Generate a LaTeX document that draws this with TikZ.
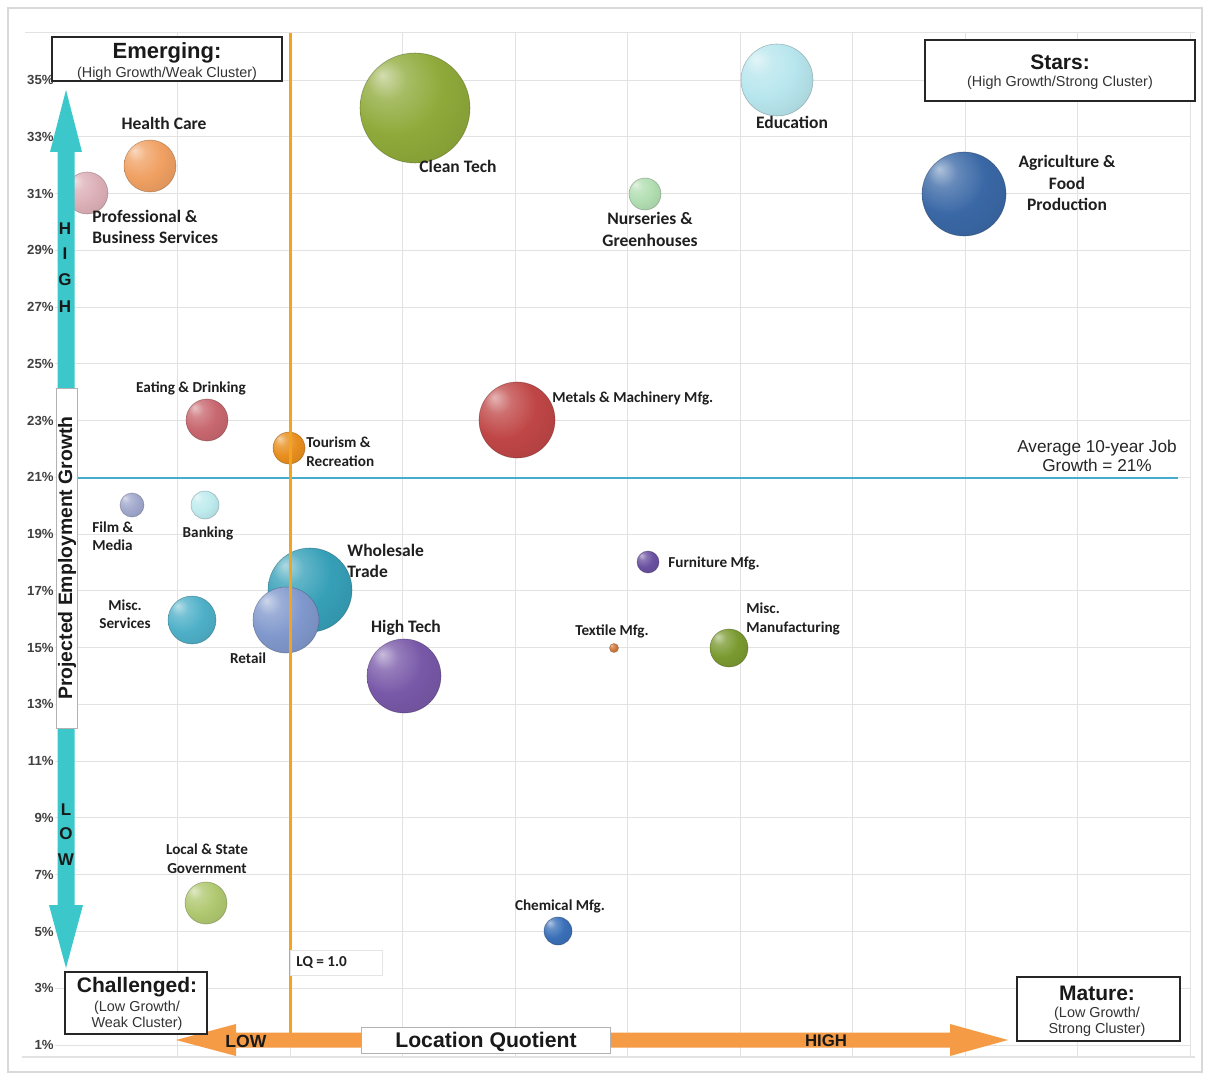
\documentclass[tikz,border=0pt]{standalone}
\usepackage{fontspec}
\setmainfont{Liberation Sans}
\newfontfamily\calfont{Carlito}
\colorlet{bcol}{blue}
\pgfdeclareradialshading[bcol]{sphere}{\pgfqpoint{-15bp}{15bp}}{color(0bp)=(bcol!40!white); color(9bp)=(bcol!78!white); color(22bp)=(bcol); color(48bp)=(bcol!85!black); color(64bp)=(bcol!68!black)}
\definecolor{cyanarrow}{HTML}{3CC8CB}
\definecolor{orarrow}{HTML}{F59B45}
\definecolor{lqline}{HTML}{F2A41E}
\definecolor{avgline}{HTML}{45ABCF}
\definecolor{gridc}{HTML}{E2E2E2}
\definecolor{cClean}{HTML}{8FAA3A}
\definecolor{cEdu}{HTML}{B8E6EE}
\definecolor{cHealth}{HTML}{F0A062}
\definecolor{cProf}{HTML}{DDB0B8}
\definecolor{cNurs}{HTML}{B2DEB2}
\definecolor{cAgri}{HTML}{3A68A6}
\definecolor{cEat}{HTML}{C8676F}
\definecolor{cTour}{HTML}{E88E1E}
\definecolor{cMetal}{HTML}{C04646}
\definecolor{cFilm}{HTML}{A0A8CC}
\definecolor{cBank}{HTML}{BEEBEE}
\definecolor{cWhole}{HTML}{36A0B8}
\definecolor{cMiscS}{HTML}{4EB0C8}
\definecolor{cRetail}{HTML}{8098CC}
\definecolor{cHigh}{HTML}{7858A8}
\definecolor{cFurn}{HTML}{6A50A0}
\definecolor{cText}{HTML}{D07838}
\definecolor{cMiscM}{HTML}{7A9A30}
\definecolor{cLocal}{HTML}{B0C870}
\definecolor{cChem}{HTML}{3A70B8}
\tikzset{
  bc/.code={\colorlet{bcol}{#1}},
  bubble/.style={circle, inner sep=0pt, outer sep=0pt, minimum size=#1, shading=sphere, draw=bcol!50!black, draw opacity=0.45, line width=0.3pt},
  lbig/.style={font=\calfont\bfseries\fontsize{8.75}{10.75}\selectfont, inner sep=0pt, text=black!88},
  lsmall/.style={font=\calfont\bfseries\fontsize{7.6}{9.25}\selectfont, inner sep=0pt, text=black!88},
  ylab/.style={font=\bfseries\fontsize{6.6}{7}\selectfont, inner sep=0pt, text=black!75, anchor=east},
  quad/.style={draw=black!85, line width=0.9pt, fill=white},
  qtitle/.style={font=\bfseries\fontsize{10.5}{12}\selectfont, inner sep=0pt, text=black!90},
  qsub/.style={font=\fontsize{7.2}{8.2}\selectfont, inner sep=0pt, text=black!80, align=center},
  vlet/.style={font=\bfseries\fontsize{8.5}{9}\selectfont, inner sep=0pt, text=black!90},
}
\begin{document}
\begin{tikzpicture}[x=0.5pt, y=-0.5pt]
\useasboundingbox (0,0) rectangle (1215,1075);
\fill[white] (0,0) rectangle (1215,1075);
% frame
\draw[black!15, line width=0.8pt] (8,8) rectangle (1202,1072);
% grid
\foreach \v in {1,3,...,35} {
  \pgfmathsetmacro\yy{1045-(\v-1)*28.382}
  \draw[gridc, line width=0.5pt] (55,\yy) -- (1190,\yy);
  \node[ylab] (y\v) at (54,\yy) {\v\%};
}
\foreach \k in {1,...,10} {
  \pgfmathsetmacro\xx{65+112.5*\k}
  \draw[gridc, line width=0.5pt] (\xx,33) -- (\xx,1057);
}
\draw[gridc, line width=0.5pt] (25,33) -- (1195,33);
\draw[gridc, line width=0.8pt] (22,1057) -- (1195,1057);
% bubbles (diameter in pt = radius in px)
\node[bc=cClean, bubble=55pt] (cleantech) at (415,108) {};
\node[bc=cEdu, bubble=36pt] (education) at (777,80) {};
\node[bc=cHealth, bubble=26pt] (health) at (150,166) {};
\node[bc=cProf, bubble=21pt] (prof) at (87,193) {};
\node[bc=cNurs, bubble=16pt] (nurs) at (645,194) {};
\node[bc=cAgri, bubble=42pt] (agri) at (964,194) {};
\node[bc=cEat, bubble=21pt] (eat) at (207,420) {};
\node[bc=cTour, bubble=16pt] (tour) at (289,448) {};
\node[bc=cMetal, bubble=38pt] (metal) at (517,420) {};
\node[bc=cFilm, bubble=12pt] (film) at (132,505) {};
\node[bc=cBank, bubble=14pt] (bank) at (205,505) {};
\node[bc=cWhole, bubble=42pt] (whole) at (310,590) {};
\node[bc=cMiscS, bubble=24pt] (miscs) at (192,620) {};
\node[bc=cRetail, bubble=33pt] (retail) at (286,620) {};
\node[bc=cHigh, bubble=37pt] (high) at (404,676) {};
\node[bc=cFurn, bubble=11pt] (furn) at (648,562) {};
\node[bc=cText, bubble=4.5pt] (textile) at (614,648) {};
\node[bc=cMiscM, bubble=19pt] (miscm) at (729,648) {};
\node[bc=cLocal, bubble=21pt] (local) at (206,903) {};
\node[bc=cChem, bubble=14pt] (chem) at (558,931) {};
% average line and LQ line
\draw[avgline, line width=1.4pt] (78,478) -- (1178,478);
\draw[lqline, line width=1.5pt] (290,33) -- (290,1040);
% labels
\node[lbig] (lhealth) at (164,123) {Health Care};
\node[lbig, align=left, anchor=west] (lprof) at (92,227) {Professional \&\\Business Services};
\node[lbig] (lclean) at (458,166) {Clean Tech};
\node[lbig] (ledu) at (792,122) {Education};
\node[lbig, align=center] (lnurs) at (650,229.5) {Nurseries \&\\Greenhouses};
\node[lbig, align=center] (lagri) at (1067,183) {Agriculture \&\\Food\\Production};
\node[lbig, align=left, anchor=west] (lwhole) at (347,561) {Wholesale\\Trade};
\node[lbig] (lhigh) at (406,628) {High Tech};
\node[lsmall, anchor=west] (lmetal) at (552,398) {Metals \& Machinery Mfg.};
\node[lsmall] (leat) at (191,388) {Eating \& Drinking};
\node[lsmall, align=left, anchor=west] (ltour) at (306,451.5) {Tourism \&\\Recreation};
\node[lsmall, align=left, anchor=west] (lfilm) at (92,536) {Film \&\\Media};
\node[lsmall] (lbank) at (208,533) {Banking};
\node[lsmall, align=center] (lmiscs) at (125,614) {Misc.\\Services};
\node[lsmall] (lretail) at (248,658) {Retail};
\node[lsmall, anchor=west] (lfurn) at (668,563) {Furniture Mfg.};
\node[lsmall] (ltextile) at (612,631) {Textile Mfg.};
\node[lsmall, align=left, anchor=west] (lmiscm) at (746,619) {Misc.\\Manufacturing};
\node[lsmall, align=center] (llocal) at (207,858.5) {Local \& State\\Government};
\node[lsmall] (lchem) at (560,906) {Chemical Mfg.};
% average label
\node[font=\fontsize{8.6}{9.6}\selectfont, align=center, inner sep=0pt, text=black!85] (avg) at (1097,455.5) {Average 10-year Job\\Growth = 21\%};
% LQ label
\node[draw=black!10, fill=white, minimum width=46pt, minimum height=12.5pt, inner sep=0pt] (lqbox) at (336.5,962.5) {};
\node[lsmall, anchor=west] (lq) at (296,962) {LQ = 1.0};
% vertical cyan double arrow
\fill[cyanarrow] (66,90) -- (82,152) -- (74.5,152) -- (74.5,905) -- (83,905) -- (66,968) -- (49,905) -- (57.5,905) -- (57.5,152) -- (50,152) -- cycle;
\node[vlet] (h1) at (65,229) {H};
\node[vlet] (h2) at (65,254) {I};
\node[vlet] (h3) at (65,280) {G};
\node[vlet] (h4) at (65,307) {H};
\node[vlet] (l1) at (66,810) {L};
\node[vlet] (l2) at (66,834) {O};
\node[vlet] (l3) at (66,860) {W};
\node[draw=black!30, fill=white, line width=0.4pt, minimum width=10.5pt, minimum height=170pt, inner sep=0pt] (ybox) at (66.5,558) {};
\node[rotate=90, font=\bfseries\fontsize{9.7}{10}\selectfont, inner sep=0pt, text=black!90] (ytitle) at (67,558) {Projected Employment Growth};
% horizontal orange double arrow
\fill[orarrow] (176,1040) -- (236,1024) -- (236,1032.5) -- (950,1032.5) -- (950,1024) -- (1008,1040) -- (950,1056) -- (950,1047.5) -- (236,1047.5) -- (236,1056) -- cycle;
\node[font=\bfseries\fontsize{8.8}{9}\selectfont, inner sep=0pt, text=black!90] (low) at (246,1041) {LOW};
\node[font=\bfseries\fontsize{8.4}{9}\selectfont, inner sep=0pt, text=black!90] (highx) at (826,1041) {HIGH};
\node[draw=black!30, fill=white, line width=0.4pt, minimum width=124.5pt, minimum height=13pt, inner sep=0pt] (xbox) at (485.5,1040) {};
\node[font=\bfseries\fontsize{10.6}{11}\selectfont, inner sep=0pt, text=black!90] (xtitle) at (486,1042) {Location Quotient};
% quadrant boxes
\draw[quad] (52,37) rectangle (282,81);
\node[qtitle, font=\bfseries\fontsize{11}{12}\selectfont] (emt) at (167,53) {Emerging:};
\node[qsub] (ems) at (167,74) {(High Growth/Weak Cluster)};
\draw[quad] (925,40) rectangle (1195,101);
\node[qtitle] (stt) at (1060,62) {Stars:};
\node[qsub] (sts) at (1060,83) {(High Growth/Strong Cluster)};
\draw[quad] (65,972) rectangle (207,1034);
\node[qtitle] (cht) at (137,987) {Challenged:};
\node[qsub] (chs) at (137,1016) {(Low Growth/\\Weak Cluster)};
\draw[quad] (1017,977) rectangle (1180,1041);
\node[qtitle] (mat) at (1097,993) {Mature:};
\node[qsub] (mas) at (1097,1021.5) {(Low Growth/\\Strong Cluster)};
\end{tikzpicture}
\end{document}
